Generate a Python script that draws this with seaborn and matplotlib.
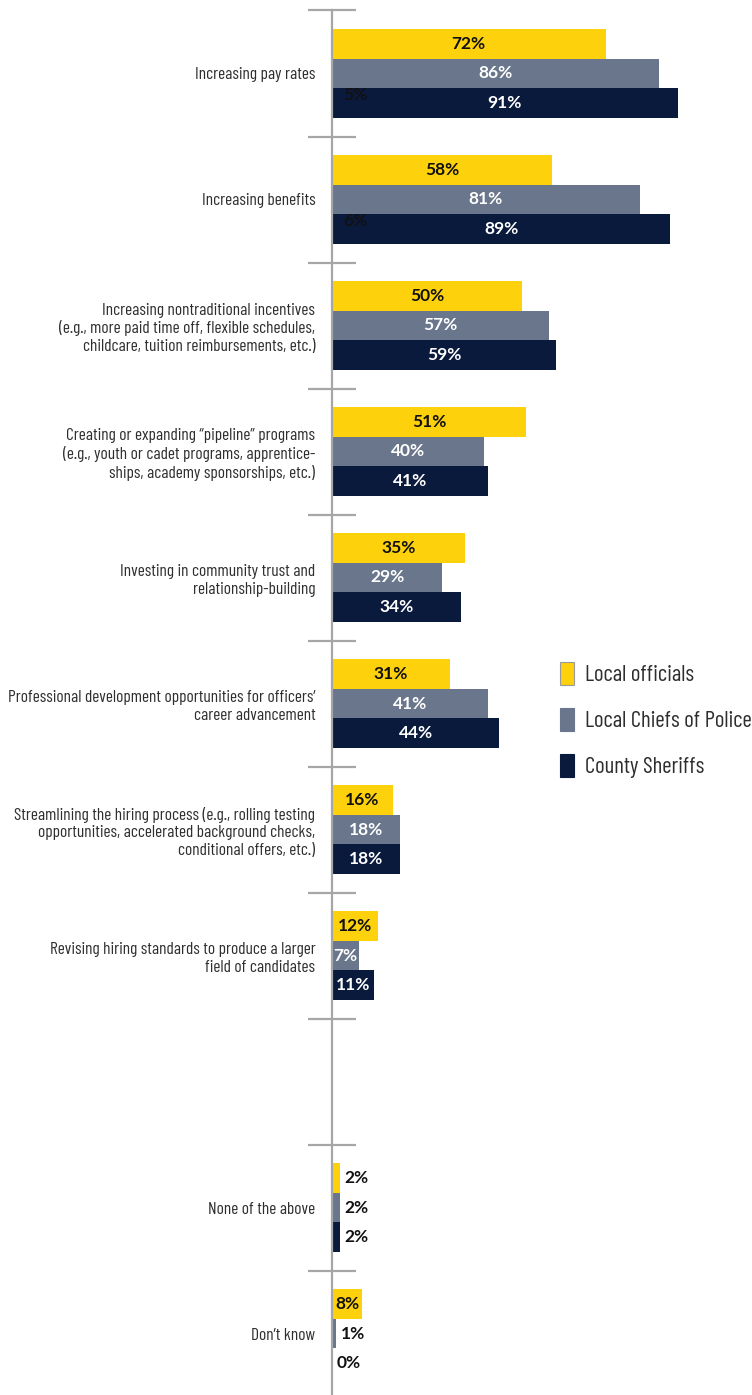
import numpy as np
import pandas as pd
import matplotlib
matplotlib.use("Agg")
import matplotlib.pyplot as plt
from matplotlib.patches import Patch
import seaborn as sns

# ---- data -------------------------------------------------------------
categories = [
    "Increasing pay rates",
    "Increasing benefits",
    "Increasing nontraditional incentives\n(e.g., more paid time off, flexible schedules,\nchildcare, tuition reimbursements, etc.)",
    "Creating or expanding \u201cpipeline\u201d programs\n(e.g., youth or cadet programs, apprentice-\nships, academy sponsorships, etc.)",
    "Investing in community trust and\nrelationship-building",
    "Professional development opportunities for officers\u2019\ncareer advancement",
    "Streamlining the hiring process (e.g., rolling testing\nopportunities, accelerated background checks,\nconditional offers, etc.)",
    "Revising hiring standards to produce a larger\nfield of candidates",
    " ",
    "None of the above",
    "Don\u2019t know",
]
groups = ["Local officials", "Local Chiefs of Police", "County Sheriffs"]
local_officials = [72, 58, 50, 51, 35, 31, 16, 12, None, 2, 8]
local_chiefs = [86, 81, 57, 40, 29, 41, 18, 7, None, 2, 1]
county_sheriffs = [91, 89, 59, 41, 34, 44, 18, 11, None, 2, 0]
# stray percentage notes printed over the first two category groups
stray_notes = [("Increasing pay rates", "5%"), ("Increasing benefits", "6%")]

colors = ["#FDD10B", "#6A768C", "#0A1A3D"]
label_colors = ["#111111", "#FFFFFF", "#FFFFFF"]

rows = []
for g, vals in zip(groups, [local_officials, local_chiefs, county_sheriffs]):
    for c, v in zip(categories, vals):
        if v is not None:
            rows.append({"category": c, "group": g, "value": v})
df = pd.DataFrame(rows)

# ---- figure -----------------------------------------------------------
sns.set_theme(style="white")
label_font = ["Barlow Condensed", "Liberation Sans Narrow", "DejaVu Sans"]
value_font = ["Lato", "DejaVu Sans"]

W, H, DPI = 752, 1395, 100
fig = plt.figure(figsize=(W / DPI, H / DPI), dpi=DPI)
ax_left = 332 / W
ax_width = 380 / W
ax = fig.add_axes([ax_left, 0.0, ax_width, 1.0])

sns.barplot(
    data=df, y="category", x="value", hue="group",
    order=categories, hue_order=groups, palette=colors, saturation=1,
    orient="h", width=0.71, dodge=True, linewidth=0,
    errorbar=None, legend=False, ax=ax,
)

step = 126.0
top_center = 73.5
ax.set_xlim(0, 100)
ax.set_ylim((H - top_center) / step, -top_center / step)

# value labels
for k, cont in enumerate(ax.containers):
    for bar in cont:
        w = bar.get_width()
        yc = bar.get_y() + bar.get_height() / 2
        if w < 5:
            ax.text(w + 1.3, yc, f"{w:.0f}%", ha="left", va="center",
                    fontsize=12.5, fontweight="bold", color="#111111",
                    family=value_font)
        else:
            ax.text(w / 2, yc, f"{w:.0f}%", ha="center", va="center",
                    fontsize=12.5, fontweight="bold", color=label_colors[k],
                    family=value_font)

for cat, txt in stray_notes:
    i = categories.index(cat)
    ax.text(6.2, i + 0.17, txt, ha="center", va="center", fontsize=12.5,
            fontweight="bold", color="#111111", family=value_font)

# axes styling
for side in ["top", "right", "bottom"]:
    ax.spines[side].set_visible(False)
ax.spines["left"].set_color("#A6A6A6")
ax.spines["left"].set_linewidth(1.6)
ax.spines["left"].set_bounds(-0.5, (H - top_center) / step)
ax.set_xticks([])
ax.set_xlabel("")
ax.set_ylabel("")

ax.set_yticks(range(len(categories)))
ax.set_yticklabels(categories, family=label_font, fontsize=12.5,
                   color="#2E2E2E", linespacing=1.22)
ax.tick_params(axis="y", which="major", length=0, pad=12)
ax.set_yticks(np.arange(-0.5, len(categories) - 1, 1.0), minor=True)
ax.tick_params(axis="y", which="minor", direction="inout", length=35,
               width=1.6, color="#A6A6A6", left=True)

# legend
handles = [
    Patch(facecolor=colors[0], edgecolor="#9A9A9A", linewidth=0.8),
    Patch(facecolor=colors[1], edgecolor=colors[1], linewidth=0.8),
    Patch(facecolor=colors[2], edgecolor=colors[2], linewidth=0.8),
]
fig.legend(
    handles, groups, loc="upper left",
    bbox_to_anchor=(560 / W, 1 - 662 / H), bbox_transform=fig.transFigure,
    frameon=False, borderpad=0, borderaxespad=0,
    handlelength=0.6, handleheight=1.15, handletextpad=0.5,
    labelspacing=0.95, prop={"family": label_font, "size": 16.5},
    labelcolor="#2E2E2E",
)

fig.savefig("out.png", dpi=DPI)
